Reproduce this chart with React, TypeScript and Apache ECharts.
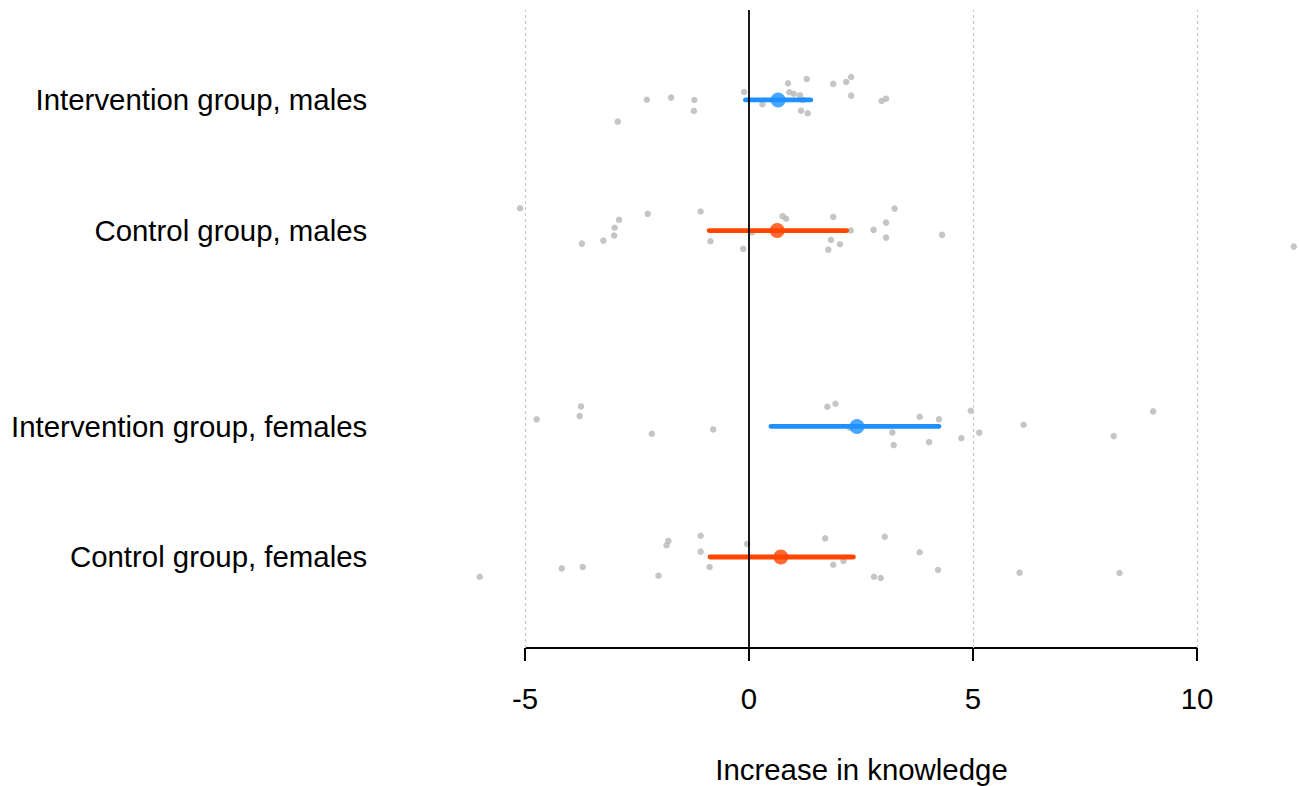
import React, { useEffect, useRef } from "react";
import * as echarts from "echarts";

// Row labels (top to bottom) and their vertical positions
const rowLabels = [
  "Intervention group, males",
  "Control group, males",
  "Intervention group, females",
  "Control group, females",
];
const rowPositions = [4.5, 3.5, 2, 1];

// Means and intervals
const means = [0.65, 0.63, 2.41, 0.71];
const lowers = [-0.08, -0.89, 0.49, -0.87];
const uppers = [1.38, 2.18, 4.24, 2.33];
const meanColors = ["#1E90FF", "#FF4500", "#1E90FF", "#FF4500"];

// Individual observations (x values) and vertical jitter
const intMalesX = [-2.93, -2.28, -1.74, -1.22, -1.23, -0.11, 0.3, 0.87, 0.9, 1.0, 1.14, 1.2, 1.16, 1.31, 1.29, 1.88, 2.17, 2.28, 2.28, 2.96, 3.06];
const intMalesJ = [-0.166, 0.002, 0.018, 0, -0.084, 0.061, -0.033, 0.128, 0.059, 0.048, 0.036, 0, -0.082, -0.102, 0.161, 0.123, 0.138, 0.176, 0.033, -0.008, 0.01];

const ctrlMalesX = [-5.11, -3.73, -3.25, -3.01, -3.0, -2.9, -2.26, -1.08, -0.86, -0.13, 0.07, 0.75, 0.83, 1.88, 2.27, 1.77, 1.83, 2.03, 2.78, 3.06, 3.25, 3.06, 4.31, 12.16];
const ctrlMalesJ = [0.171, -0.1, -0.077, -0.038, 0.021, 0.082, 0.128, 0.146, -0.082, -0.14, -0.015, 0.11, 0.09, 0.105, 0.0, -0.146, -0.071, -0.105, 0.005, 0.061, 0.168, -0.054, -0.033, -0.123];

const intFemalesX = [-4.74, -3.75, -3.78, -2.17, -0.8, 1.75, 1.93, 2.25, 3.2, 3.23, 3.81, 4.24, 4.02, 4.74, 4.95, 5.14, 6.13, 8.14, 9.02];
const intFemalesJ = [0.054, 0.153, 0.079, -0.056, -0.023, 0.151, 0.174, -0.01, -0.046, -0.143, 0.074, 0.054, -0.12, -0.09, 0.12, -0.048, 0.013, -0.074, 0.115];

const ctrlFemalesX = [-6.01, -4.18, -3.71, -2.02, -1.84, -1.8, -1.08, -1.08, -0.88, -0.04, 1.7, 1.88, 2.11, 2.79, 2.94, 3.03, 3.81, 4.22, 6.04, 8.27];
const ctrlFemalesJ = [-0.151, -0.087, -0.077, -0.143, 0.09, 0.123, 0.163, 0.041, -0.077, 0.1, 0.143, -0.059, -0.031, -0.151, -0.161, 0.155, 0.036, -0.1, -0.12, -0.123];

const xTicks = [-5, 0, 5, 10];
const gridXs = [-5, 5, 10];

const X_MIN = -6.2;
const X_MAX = 12.2;
const Y_MIN = 0.303;
const Y_MAX = 5.189;

export default function App() {
  const ref = useRef<HTMLDivElement>(null);

  useEffect(() => {
    if (!ref.current) return;
    const chart = echarts.init(ref.current, null, { renderer: "svg" });

    const groups = [
      { xs: intMalesX, js: intMalesJ },
      { xs: ctrlMalesX, js: ctrlMalesJ },
      { xs: intFemalesX, js: intFemalesJ },
      { xs: ctrlFemalesX, js: ctrlFemalesJ },
    ];

    const dotSeries = groups.map((g, i) => ({
      type: "scatter",
      symbolSize: 6.5,
      itemStyle: { color: "#b6b6b6" },
      z: 2,
      silent: true,
      data: g.xs.map((x, k) => [x, rowPositions[i] + g.js[k]]),
    }));

    const barSeries = rowPositions.map((p, i) => ({
      type: "line",
      showSymbol: false,
      symbol: "none",
      z: 3,
      silent: true,
      lineStyle: { color: meanColors[i], width: 4.8, cap: "round" },
      data: [
        [lowers[i], p],
        [uppers[i], p],
      ],
    }));

    const fontFamily = "'Liberation Sans', Arial, Helvetica, sans-serif";

    const option: any = {
      animation: false,
      backgroundColor: "#ffffff",
      grid: { left: 471.24, right: 3.44, top: 10, bottom: 138, containLabel: false },
      xAxis: {
        type: "value",
        min: X_MIN,
        max: X_MAX,
        axisLine: { show: false },
        splitLine: { show: false },
        axisTick: {
          show: true,
          customValues: xTicks,
          length: 13,
          inside: false,
          lineStyle: { color: "#000", width: 2 },
        },
        axisLabel: {
          show: true,
          customValues: xTicks,
          margin: 36,
          fontSize: 29.4,
          color: "#000",
          fontFamily,
        },
      },
      yAxis: {
        type: "value",
        min: Y_MIN,
        max: Y_MAX,
        axisLine: { show: false },
        axisTick: { show: false },
        splitLine: { show: false },
        axisLabel: {
          show: true,
          customValues: rowPositions,
          margin: 104,
          fontSize: 29.4,
          color: "#000",
          fontFamily,
          formatter: (v: number) => {
            const idx = rowPositions.findIndex((p) => Math.abs(p - v) < 1e-6);
            return idx >= 0 ? rowLabels[idx] : "";
          },
        },
      },
      graphic: [
        {
          type: "text",
          x: 861.5,
          y: 769,
          style: {
            text: "Increase in knowledge",
            fontSize: 29.4,
            fontFamily,
            fill: "#000",
            textAlign: "center",
            textVerticalAlign: "middle",
          },
        },
      ],
      series: [
        {
          type: "line",
          data: [],
          silent: true,
          z: 1,
          markLine: {
            silent: true,
            symbol: "none",
            label: { show: false },
            data: [
              ...gridXs.map((v) => ({
                xAxis: v,
                lineStyle: { color: "#c8c8c8", type: [3, 3], width: 1.2 },
              })),
              { xAxis: 0, lineStyle: { color: "#000", type: "solid", width: 1.8 } },
            ],
          },
        },
        {
          type: "line",
          showSymbol: false,
          symbol: "none",
          clip: false,
          silent: true,
          z: 1,
          lineStyle: { color: "#000", width: 2 },
          data: [
            [xTicks[0], Y_MIN],
            [xTicks[xTicks.length - 1], Y_MIN],
          ],
        },
        ...dotSeries,
        ...barSeries,
        {
          type: "scatter",
          symbolSize: 15,
          z: 4,
          silent: true,
          data: rowPositions.map((p, i) => ({
            value: [means[i], p],
            itemStyle: { color: meanColors[i] },
          })),
        },
      ],
    };

    chart.setOption(option);
    return () => chart.dispose();
  }, []);

  return (
    <div
      ref={ref}
      style={{ position: "fixed", left: 0, top: 0, width: 1299, height: 786, background: "#fff" }}
    />
  );
}
